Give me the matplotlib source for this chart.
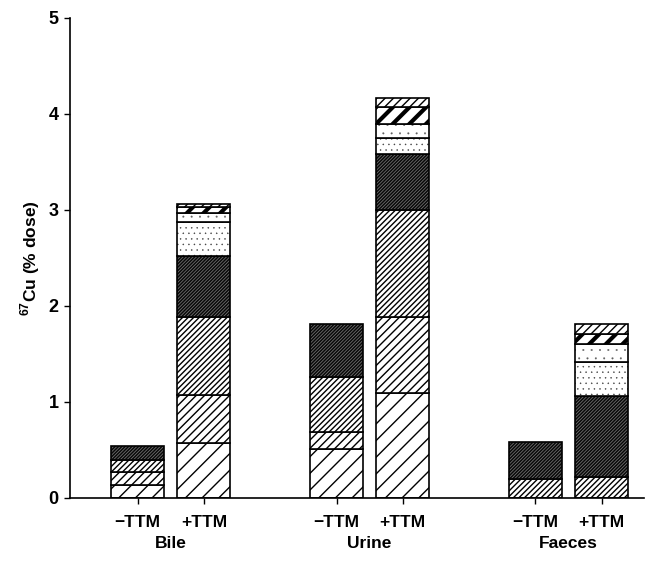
import numpy as np
import matplotlib.pyplot as plt
from matplotlib.transforms import blended_transform_factory

plt.rcParams['font.family'] = ['Liberation Sans', 'DejaVu Sans']
plt.rcParams['font.weight'] = 'bold'
plt.rcParams['mathtext.fontset'] = 'custom'
plt.rcParams['mathtext.bf'] = 'Liberation Sans:bold'
plt.rcParams['mathtext.rm'] = 'Liberation Sans:bold'

groups = ['Bile', 'Urine', 'Faeces']
treatments = ['\u2212TTM', '+TTM']

# fractions from bottom to top; one value per bar:
# Bile -TTM, Bile +TTM, Urine -TTM, Urine +TTM, Faeces -TTM, Faeces +TTM
frac1 = [0.13, 0.57, 0.51, 1.09, 0.00, 0.00]
frac2 = [0.14, 0.50, 0.18, 0.79, 0.00, 0.00]
frac3 = [0.13, 0.82, 0.57, 1.12, 0.20, 0.22]
frac4 = [0.14, 0.63, 0.55, 0.58, 0.38, 0.84]
frac5 = [0.00, 0.35, 0.00, 0.17, 0.00, 0.36]
frac6 = [0.00, 0.10, 0.00, 0.15, 0.00, 0.18]
frac7 = [0.00, 0.06, 0.00, 0.17, 0.00, 0.11]
frac8 = [0.00, 0.03, 0.00, 0.10, 0.00, 0.10]

layers = [frac1, frac2, frac3, frac4, frac5, frac6, frac7, frac8]
# facecolor, hatch, hatch colour, hatch linewidth
styles = [
    ('white', '//', 'black', 1.0),
    ('white', '////', 'black', 1.0),
    ('white', '//////', 'black', 1.0),
    ('#080808', '//////////', '#707070', 0.6),
    ('white', '...', '#404040', 0.3),
    ('white', '..', '#606060', 0.2),
    ('white', '//', 'black', 3.0),
    ('white', '////', 'black', 1.0),
]

x = np.array([i * 3 + o for i in range(len(groups)) for o in (-0.5, 0.5)])
width = 0.8

fig = plt.figure(figsize=(6.6, 5.62), dpi=100)
ax = fig.add_axes([0.106, 0.114, 0.870, 0.854])

bottom = np.zeros(len(x))
for vals, (fc, hatch, hc, hlw) in zip(layers, styles):
    vals = np.array(vals)
    m = vals > 0
    with plt.rc_context({'hatch.linewidth': hlw}):
        bars = ax.bar(x[m], vals[m], width, bottom=bottom[m], color=fc,
                      edgecolor=hc, hatch=hatch, linewidth=0)
        for b in bars:
            if hasattr(b, 'set_hatch_linewidth'):
                b.set_hatch_linewidth(hlw)
    ax.bar(x[m], vals[m], width, bottom=bottom[m], fill=False,
           edgecolor='black', linewidth=1.2)
    bottom += vals

ax.set_ylim(0, 5)
ax.set_xlim(-1.52, 7.14)
ax.spines['top'].set_visible(False)
ax.spines['right'].set_visible(False)
ax.spines['left'].set_linewidth(1.2)
ax.spines['bottom'].set_linewidth(1.2)

ax.set_yticks(range(6))
ax.set_yticklabels([str(v) for v in range(6)], fontsize=13, fontweight='bold')
ax.tick_params(axis='y', direction='out', length=4, width=1, pad=4)
ax.set_xticks(x)
ax.set_xticklabels(treatments * len(groups), fontsize=12.5, fontweight='bold')
ax.tick_params(axis='x', direction='out', length=4, width=1, pad=8)

trans = blended_transform_factory(ax.transData, ax.transAxes)
for i, g in enumerate(groups):
    ax.text(i * 3, -0.094, g, transform=trans, ha='center', va='center',
            fontsize=12.5, fontweight='bold')

ax.set_ylabel(r'$^{\mathbf{67}}$Cu (% dose)', fontsize=12.5, fontweight='bold', labelpad=5)

fig.savefig('out.png', dpi=100)
